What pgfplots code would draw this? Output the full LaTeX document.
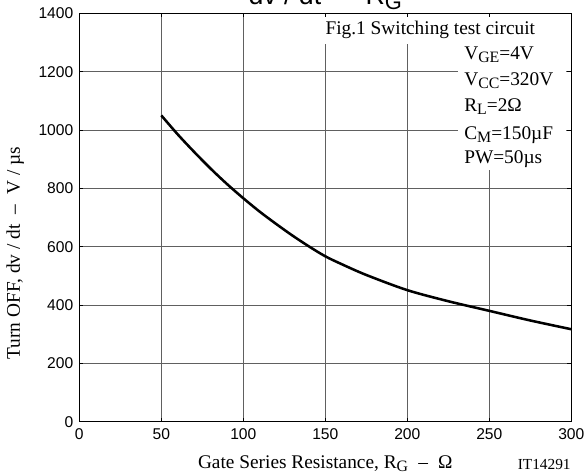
\documentclass[border=0pt]{standalone}
\usepackage{pgfplots}
\pgfplotsset{compat=1.18}
\usepackage{graphicx}
\usepackage{fontspec}
\setmainfont{Liberation Serif}
\setsansfont{Liberation Sans}
\newcommand\sub[1]{\raisebox{-0.3ex}{\scalebox{0.82}{#1}}}
\begin{document}
\begin{tikzpicture}
\begin{axis}[
  scale only axis, width=369pt, height=306.3pt,
  xmin=0, xmax=300, ymin=0, ymax=1400,
  xtick={0,50,...,300}, ytick={0,200,...,1400},
  grid=major, grid style={gray!75!black, line width=0.6pt},
  axis line style={line width=1.1pt},
  tick style={black, line width=0.6pt}, major tick length=3pt,
  tick align=inside,
  clip=false,
  /pgf/number format/1000 sep={},
  /pgf/number format/assume math mode=true,
  tick label style={font=\sffamily\fontsize{11.7}{12}\selectfont},
  xticklabel style={yshift=-2pt},
  yticklabel style={xshift=-1pt},
  xlabel={Gate Series Resistance, R\sub{G} \;–\; Ω},
  xlabel style={font=\fontsize{14.5}{15}\selectfont, at={(rel axis cs:0.5,-0.1036)}, anchor=center},
  ylabel={Turn OFF, dv / dt \;–\; V / µs},
  ylabel style={font=\fontsize{14.5}{15}\selectfont, at={(rel axis cs:-0.130,0.413)}, anchor=center, rotate=0},
]
\addplot[black, line width=1.9pt, smooth] coordinates {
 (50,1050) (60,985) (70,925) (80,868) (90,815) (100,766) (110,720)
 (120,678) (130,638) (140,601) (150,567) (160,540) (175,503) (200,451)
 (225,413) (250,380) (275,347) (300,317)
};
\fill[white] (axis cs:148.2,1387.5) rectangle (axis cs:296.8,1295);
\fill[white] (axis cs:230.9,1295) rectangle (axis cs:296.8,863);
\begin{scope}[every node/.style={anchor=base west, inner sep=0pt, font=\fontsize{14.5}{15}\selectfont}]
\node at (axis cs:150,1325.8) {Fig.1 Switching test circuit};
\node at (axis cs:234.6,1240) {V\sub{GE}=4V};
\node at (axis cs:234.6,1151) {V\sub{CC}=320V};
\node at (axis cs:234.6,1063.5) {R\sub{L}=2Ω};
\node at (axis cs:234.6,966) {C\sub{M}=150µF};
\node at (axis cs:234.6,886) {PW=50µs};
\end{scope}
\node[anchor=base, inner sep=0pt, font=\sffamily\fontsize{20}{20}\selectfont] at (rel axis cs:0.5,1.0206) {dv / dt \;–\; R\sub{G}};
\node[anchor=base, inner sep=0pt, font=\fontsize{11.5}{12}\selectfont] at (rel axis cs:0.945,-0.117) {IT14291};
\coordinate (bl) at (rel axis cs:-0.1612,-0.1305);
\coordinate (tr) at (rel axis cs:1.0319,1.0326);
\end{axis}
\pgfresetboundingbox
\useasboundingbox (bl) rectangle (tr);
\end{tikzpicture}
\end{document}
